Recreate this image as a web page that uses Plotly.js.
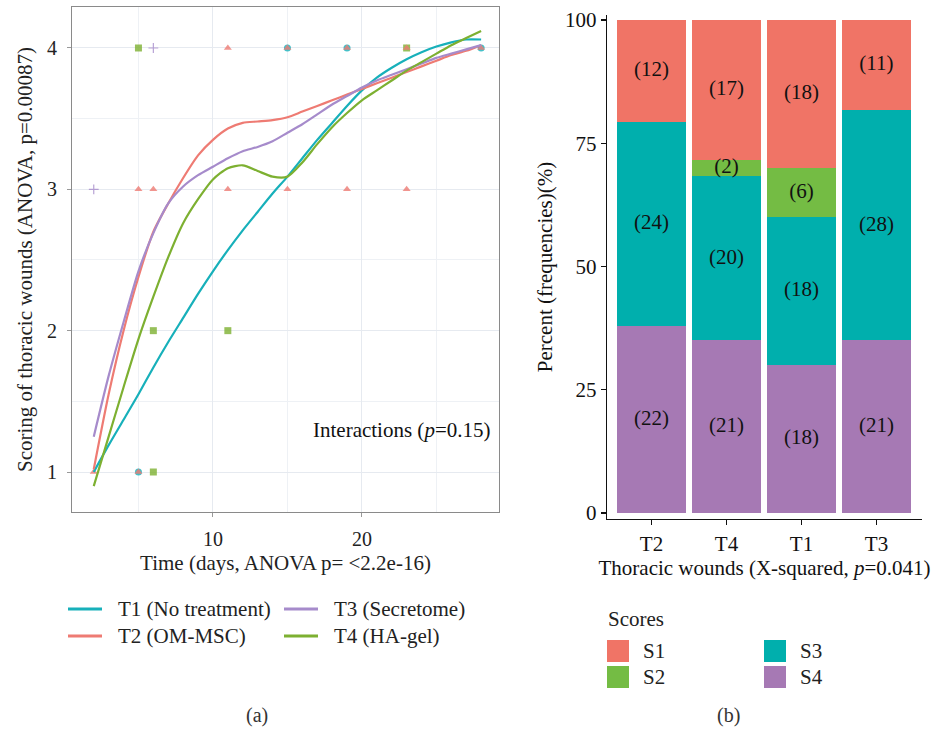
<!DOCTYPE html>
<html>
<head>
<meta charset="utf-8">
<script src="https://cdn.plot.ly/plotly-3.0.1.min.js"></script>
<style>html,body{margin:0;padding:0;background:#fff;}#chart{width:932px;height:731px;}</style>
</head>
<body>
<div id="chart"></div>
<script>
// ---------- Panel (a): smoothed score curves ----------
const days = [2,3,4,5,6,7,8,9,10,11,12,13,14,15,16,17,18,19,20,21,22,23,24,25,26,27,28];
const t1Smooth = [1.00,1.19,1.37,1.55,1.74,1.92,2.09,2.26,2.42,2.57,2.71,2.84,2.97,3.09,3.22,3.35,3.47,3.59,3.70,3.79,3.86,3.92,3.97,4.01,4.04,4.06,4.06];
const t2Smooth = [1.02,1.55,2.00,2.38,2.70,2.90,3.08,3.24,3.35,3.43,3.47,3.48,3.49,3.51,3.55,3.59,3.63,3.67,3.71,3.75,3.79,3.83,3.87,3.91,3.95,3.98,4.02];
const t3Smooth = [1.25,1.68,2.06,2.42,2.69,2.90,3.02,3.10,3.16,3.22,3.27,3.30,3.34,3.40,3.46,3.53,3.60,3.66,3.72,3.77,3.81,3.85,3.89,3.93,3.96,3.99,4.02];
const t4Smooth = [0.90,1.25,1.60,1.94,2.24,2.52,2.76,2.93,3.07,3.15,3.17,3.13,3.09,3.09,3.19,3.32,3.44,3.54,3.63,3.70,3.77,3.84,3.90,3.96,4.02,4.07,4.12];

// observed scores (points)
const t1PtDays = [5, 15, 19, 28];
const t1PtScores = [1, 4, 4, 4];
const t2PtDays = [2, 5, 5, 6, 11, 11, 15, 15, 19, 19, 23, 23, 28];
const t2PtScores = [1, 3, 1, 3, 4, 3, 4, 3, 4, 3, 4, 3, 4];
const t3PtDays = [2, 6];
const t3PtScores = [3, 4];
const t4PtDays = [5, 6, 6, 11, 23];
const t4PtScores = [4, 2, 1, 2, 4];

const groupNames = ["T1 (No treatment)", "T2 (OM-MSC)", "T3 (Secretome)", "T4 (HA-gel)"];
const groupColors = ["#17B0BA", "#EE7B73", "#A68BCB", "#7DB031"];

// ---------- Panel (b): score frequencies ----------
const woundGroups = ["T2", "T4", "T1", "T3"];
const scoreNames = ["S1", "S2", "S3", "S4"];
const s1Counts = [12, 17, 18, 11];
const s2Counts = [0, 2, 6, 0];
const s3Counts = [24, 20, 18, 28];
const s4Counts = [22, 21, 18, 21];
const scoreColors = ["#F07466", "#74BC44", "#00AFAD", "#A679B4"];

// ---------- build ----------
const FONT = "Liberation Serif, Times New Roman, serif";
const FS = 21;
const W = 932, H = 731;
const px = x => x / W;
const py = y => 1 - y / H;

const traces = [];
const smooth = [t1Smooth, t2Smooth, t3Smooth, t4Smooth];
const ptD = [t1PtDays, t2PtDays, t3PtDays, t4PtDays];
const ptS = [t1PtScores, t2PtScores, t3PtScores, t4PtScores];
const symbols = ["circle", "triangle-up", "cross-thin-open", "square"];

[0, 2, 3, 1].forEach(i => {
  traces.push({
    type: "scatter", mode: "markers", x: ptD[i], y: ptS[i], xaxis: "x", yaxis: "y",
    marker: {symbol: symbols[i], size: 7, color: groupColors[i], opacity: 0.8,
             line: {width: symbols[i] === "cross-thin-open" ? 1.2 : 0, color: groupColors[i]}},
    showlegend: false, hoverinfo: "skip"
  });
});
for (let i = 0; i < 4; i++) {
  traces.push({
    type: "scatter", mode: "lines", x: days, y: smooth[i], xaxis: "x", yaxis: "y",
    name: groupNames[i], line: {color: groupColors[i], width: 2.2, shape: "spline", smoothing: 0.7},
    showlegend: false
  });
}

// bars
const counts = [s1Counts, s2Counts, s3Counts, s4Counts];
const totals = woundGroups.map((g, j) => counts.reduce((a, c) => a + c[j], 0));
const pct = counts.map(c => c.map((v, j) => 100 * v / totals[j]));
[3, 2, 1, 0].forEach(k => {
  traces.push({
    type: "bar", x: woundGroups, y: pct[k], xaxis: "x2", yaxis: "y2",
    name: scoreNames[k], marker: {color: scoreColors[k], line: {width: 0}},
    showlegend: false, hoverinfo: "skip"
  });
});
const labX = [], labY = [], labT = [];
woundGroups.forEach((g, j) => {
  let base = 0;
  [3, 2, 1, 0].forEach(k => {
    const v = pct[k][j];
    if (counts[k][j] > 0) { labX.push(g); labY.push(base + v / 2); labT.push("(" + counts[k][j] + ")"); }
    base += v;
  });
});
traces.push({
  type: "scatter", mode: "text", x: labX, y: labY, text: labT, xaxis: "x2", yaxis: "y2",
  textfont: {family: FONT, size: FS, color: "#111"}, showlegend: false, hoverinfo: "skip", cliponaxis: false
});

// ---------- custom legends ----------
const shapes = [], annotations = [];
const legA = [ {i: 0, x: 68, y: 609}, {i: 1, x: 68, y: 636}, {i: 2, x: 284, y: 609}, {i: 3, x: 284, y: 636} ];
legA.forEach(e => {
  shapes.push({type: "line", xref: "paper", yref: "paper", x0: px(e.x), x1: px(e.x + 34), y0: py(e.y), y1: py(e.y),
               line: {color: groupColors[e.i], width: 3}});
  annotations.push({xref: "paper", yref: "paper", x: px(e.x + 48), y: py(e.y), xanchor: "left", yanchor: "middle",
                    text: groupNames[e.i], showarrow: false, font: {family: FONT, size: FS, color: "#222"}});
});
annotations.push({xref: "paper", yref: "paper", x: px(606), y: py(619), xanchor: "left", yanchor: "middle",
                  text: "Scores", showarrow: false, font: {family: FONT, size: FS, color: "#222"}});
const legB = [ {k: 0, x: 607, y: 640}, {k: 1, x: 607, y: 666}, {k: 2, x: 764, y: 640}, {k: 3, x: 764, y: 666} ];
legB.forEach(e => {
  shapes.push({type: "rect", xref: "paper", yref: "paper", x0: px(e.x), x1: px(e.x + 22), y0: py(e.y + 22), y1: py(e.y),
               fillcolor: scoreColors[e.k], line: {width: 0}});
  annotations.push({xref: "paper", yref: "paper", x: px(e.x + 34), y: py(e.y + 11), xanchor: "left", yanchor: "middle",
                    text: scoreNames[e.k], showarrow: false, font: {family: FONT, size: FS, color: "#222"}});
});
annotations.push({xref: "x", yref: "y", x: 28.7, y: 1.3, xanchor: "right", yanchor: "middle",
                  text: "Interactions (<i>p</i>=0.15)", showarrow: false, font: {family: FONT, size: FS, color: "#111"}});
annotations.push({xref: "paper", yref: "paper", x: px(257), y: py(715), xanchor: "center", yanchor: "middle",
                  text: "(a)", showarrow: false, font: {family: FONT, size: 20, color: "#333"}});
annotations.push({xref: "paper", yref: "paper", x: px(728), y: py(715), xanchor: "center", yanchor: "middle",
                  text: "(b)", showarrow: false, font: {family: FONT, size: 20, color: "#333"}});

const layout = {
  width: W, height: H, margin: {l: 0, r: 0, t: 0, b: 0},
  paper_bgcolor: "#fff", plot_bgcolor: "#fff",
  font: {family: FONT, size: FS, color: "#222"},
  showlegend: false, bargap: 0.08, barmode: "stack",
  xaxis: {
    domain: [px(72), px(499)], range: [0.54, 29.2], anchor: "y",
    tickvals: [10, 20], ticks: "outside", ticklen: 4, tickcolor: "#999", ticklabelstandoff: 5,
    showgrid: true, gridcolor: "#E6EAF0", gridwidth: 1,
    minor: {tickvals: [5, 15, 25], showgrid: true, gridcolor: "#EEF1F5", gridwidth: 1},
    showline: true, mirror: true, linecolor: "#8a8a8a", linewidth: 1, zeroline: false,
    tickfont: {family: FONT, size: 20, color: "#222"},
    title: {text: "Time (days, ANOVA p= <2.2e-16)", font: {family: FONT, size: FS, color: "#222"}, standoff: 6},
    automargin: false
  },
  yaxis: {
    domain: [py(512), py(7)], range: [0.717, 4.29], anchor: "x",
    tickvals: [1, 2, 3, 4], ticks: "outside", ticklen: 4, tickcolor: "#999", ticklabelstandoff: 6,
    showgrid: true, gridcolor: "#E6EAF0", gridwidth: 1,
    minor: {tickvals: [1.5, 2.5, 3.5], showgrid: true, gridcolor: "#EEF1F5", gridwidth: 1},
    showline: true, mirror: true, linecolor: "#8a8a8a", linewidth: 1, zeroline: false,
    tickfont: {family: FONT, size: 20, color: "#222"},
    title: {text: "Scoring of thoracic wounds (ANOVA, p=0.00087)", font: {family: FONT, size: FS, color: "#222"}, standoff: 8},
    automargin: false
  },
  xaxis2: {
    domain: [px(607), px(922)], range: [-0.593, 3.607], anchor: "y2",
    categoryorder: "array", categoryarray: woundGroups,
    ticks: "outside", ticklen: 5, tickcolor: "#111", tickwidth: 1.3,
    showgrid: false, showline: true, linecolor: "#111", linewidth: 1.3, zeroline: false,
    tickfont: {family: FONT, size: FS, color: "#111"},
    title: {text: "Thoracic wounds (X-squared, <i>p</i>=0.041)", font: {family: FONT, size: FS, color: "#111"}, standoff: 5},
    automargin: false
  },
  yaxis2: {
    domain: [py(519), py(15)], range: [-1.2, 101], anchor: "x2",
    tickvals: [0, 25, 50, 75, 100], ticks: "outside", ticklen: 5, tickcolor: "#111", tickwidth: 1.3,
    showgrid: false, showline: true, linecolor: "#111", linewidth: 1.3, zeroline: false,
    tickfont: {family: FONT, size: FS, color: "#111"},
    title: {text: "Percent (frequencies)(%)", font: {family: FONT, size: FS, color: "#111"}, standoff: 6},
    automargin: false
  },
  shapes: shapes, annotations: annotations
};

Plotly.newPlot("chart", traces, layout, {displayModeBar: false, staticPlot: true});
</script>
</body>
</html>
